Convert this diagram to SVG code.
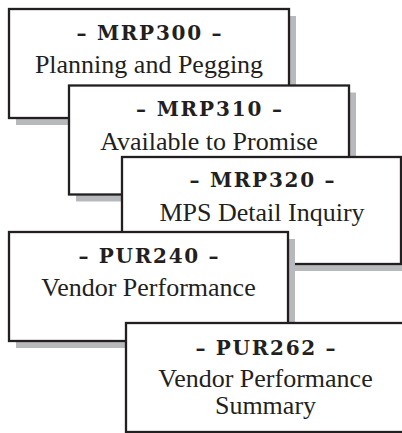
<svg xmlns="http://www.w3.org/2000/svg" width="402" height="433" viewBox="0 0 402 433">
<style>
.shadow{fill:#b8b9bc;stroke:none}
.box{fill:#ffffff;stroke:#231f20;stroke-width:2.3}
.t1{font-family:"DejaVu Serif","Liberation Serif",serif;font-weight:bold;font-size:20px;fill:#231f20;text-anchor:middle}
.t2{font-family:"Liberation Serif","Times New Roman",serif;font-size:26px;fill:#231f20;text-anchor:middle}
</style>
<rect width="402" height="433" fill="#ffffff"/>
<g id="MRP300">
<rect class="shadow" x="16" y="16" width="280" height="109"/>
<rect class="box" x="9" y="9" width="280" height="109"/>
<text class="t1" x="149" y="39.5" textLength="145" lengthAdjust="spacing">– MRP300 –</text>
<text class="t2" x="149" y="73">Planning and Pegging</text>
</g>
<g id="MRP310">
<rect class="shadow" x="76" y="92.5" width="280" height="109"/>
<rect class="box" x="69" y="85.5" width="280" height="109"/>
<text class="t1" x="209" y="116" textLength="146" lengthAdjust="spacing">– MRP310 –</text>
<text class="t2" x="209" y="149.5">Available to Promise</text>
</g>
<g id="MRP320">
<rect class="shadow" x="129" y="164" width="279" height="107"/>
<rect class="box" x="122" y="157" width="279" height="107"/>
<text class="t1" x="262" y="187" textLength="145" lengthAdjust="spacing">– MRP320 –</text>
<text class="t2" x="262" y="221">MPS Detail Inquiry</text>
</g>
<g id="PUR240">
<rect class="shadow" x="16" y="239" width="279" height="109"/>
<rect class="box" x="9" y="232" width="279" height="109"/>
<text class="t1" x="148.5" y="262.5" textLength="140" lengthAdjust="spacing">– PUR240 –</text>
<text class="t2" x="148.5" y="295.5">Vendor Performance</text>
</g>
<g id="PUR262">
<rect class="shadow" x="133" y="330" width="280" height="109"/>
<rect class="box" x="126" y="323" width="280" height="109"/>
<text class="t1" x="265.5" y="354.5" textLength="140" lengthAdjust="spacing">– PUR262 –</text>
<text class="t2" x="265.5" y="387">Vendor Performance</text>
<text class="t2" x="265.5" y="413.5">Summary</text>
</g>
</svg>
